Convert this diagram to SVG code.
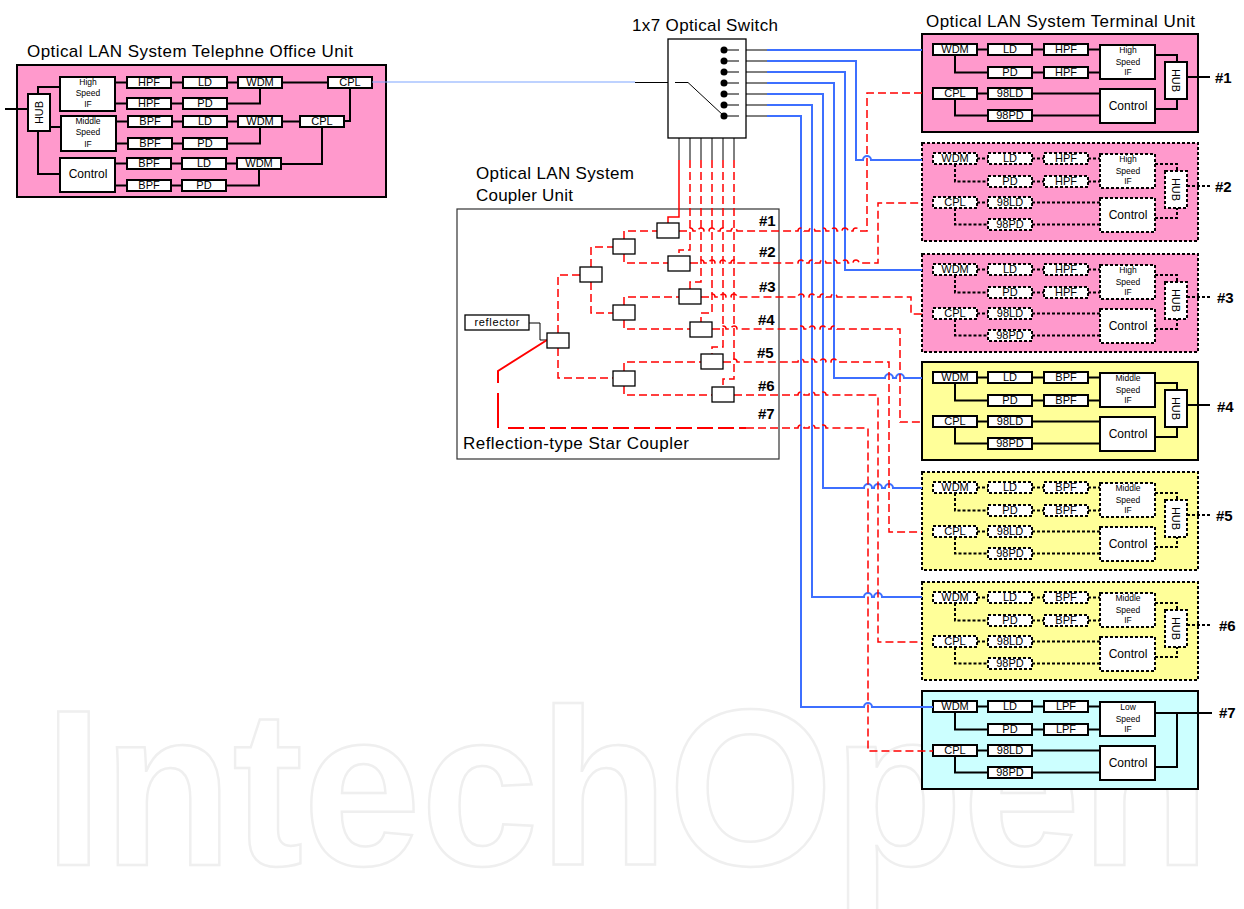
<svg xmlns="http://www.w3.org/2000/svg" width="1244" height="909" viewBox="0 0 1244 909">
<style>
text{font-family:"Liberation Sans",Arial,sans-serif;fill:#000;stroke:none}
.wm{font-size:223px;font-weight:bold;fill:#fff;stroke:#efefef;stroke-width:2.5}
.h{font-size:17px}
.t{font-size:11px;text-anchor:middle}
.s{font-size:8.5px;text-anchor:middle}
.c{font-size:12px;text-anchor:middle}
.n{font-size:15px;font-weight:bold}
.b{fill:#fff;stroke:#000;stroke-width:2}
.w{fill:none;stroke:#000;stroke-width:2}
.fr{stroke:#000;stroke-width:2}
.pink{fill:#ff99cc}.yel{fill:#ffff99}.cy{fill:#ccffff}
.dot .b,.dot .w,.dot .fr{stroke-dasharray:3 2}
.blue{fill:none;stroke:#3d6fff;stroke-width:2}
.red{fill:none;stroke:#f00;stroke-width:1.5;stroke-dasharray:8 4}
.thin{fill:none;stroke:#000;stroke-width:1}
.k{fill:#fff;stroke:#000;stroke-width:1.3}
</style>
<text class="wm" x="44" y="865" textLength="1166" lengthAdjust="spacingAndGlyphs">IntechOpen</text>

<g id="office-unit">
<text class="h" x="27" y="57" textLength="326">Optical LAN System Telephne Office Unit</text>
<rect class="pink fr" x="17" y="65" width="369" height="132"/>
<path class="w" d="M5 109H28M38 94V87H60M50 127H61M38 131V174H60M115 82.500H127M171 82.500H183M227 82.500H238M282 82.500H328M115 103.500H127M171 103.500H183M227 103.500H260V88M350 88V121H344M116 121.500H128M172 121.500H183M227 121.500H238M282 121.500H300M116 143.500H128M172 143.500H183M227 143.500H260V127M322 127V164H281M115 163.500H127M171 163.500H182M226 163.500H237M115 185.500H127M171 185.500H182M226 185.500H259V169"/>
<rect class="b" x="28" y="94" width="22" height="37"/><text class="t" transform="translate(43,112.500) rotate(-90)">HUB</text>
<rect class="b" x="60" y="77" width="55" height="34"/><text class="s" x="88" y="85">High</text><text class="s" x="88" y="96">Speed</text><text class="s" x="88" y="107">IF</text>
<rect class="b" x="61" y="116" width="55" height="35"/><text class="s" x="88" y="124">Middle</text><text class="s" x="88" y="135">Speed</text><text class="s" x="88" y="147">IF</text>
<rect class="b" x="60" y="158" width="55" height="34"/><text class="c" x="88" y="178">Control</text>
<rect class="b" x="127" y="77" width="44" height="11"/><text class="t" x="149" y="86">HPF</text>
<rect class="b" x="183" y="77" width="44" height="11"/><text class="t" x="205" y="86">LD</text>
<rect class="b" x="238" y="77" width="44" height="11"/><text class="t" x="260" y="86">WDM</text>
<rect class="b" x="328" y="77" width="44" height="11"/><text class="t" x="350" y="86">CPL</text>
<rect class="b" x="127" y="98" width="44" height="11"/><text class="t" x="149" y="107">HPF</text>
<rect class="b" x="183" y="98" width="44" height="11"/><text class="t" x="205" y="107">PD</text>
<rect class="b" x="128" y="116" width="44" height="11"/><text class="t" x="150" y="125">BPF</text>
<rect class="b" x="183" y="116" width="44" height="11"/><text class="t" x="205" y="125">LD</text>
<rect class="b" x="238" y="116" width="44" height="11"/><text class="t" x="260" y="125">WDM</text>
<rect class="b" x="300" y="116" width="44" height="11"/><text class="t" x="322" y="125">CPL</text>
<rect class="b" x="128" y="138" width="44" height="11"/><text class="t" x="150" y="147">BPF</text>
<rect class="b" x="183" y="138" width="44" height="11"/><text class="t" x="205" y="147">PD</text>
<rect class="b" x="127" y="158" width="44" height="11"/><text class="t" x="149" y="167">BPF</text>
<rect class="b" x="182" y="158" width="44" height="11"/><text class="t" x="204" y="167">LD</text>
<rect class="b" x="237" y="158" width="44" height="11"/><text class="t" x="259" y="167">WDM</text>
<rect class="b" x="127" y="180" width="44" height="11"/><text class="t" x="149" y="189">BPF</text>
<rect class="b" x="182" y="180" width="44" height="11"/><text class="t" x="204" y="189">PD</text>
</g>

<g id="optical-switch">
<text class="h" x="632" y="31" textLength="146">1x7 Optical Switch</text>
<rect x="668" y="39" width="78" height="99" fill="#fff" stroke="#000" stroke-width="1.3"/>
<g fill="#000"><circle cx="724" cy="50" r="3.500"/><circle cx="724" cy="61" r="3.500"/><circle cx="724" cy="72" r="3.500"/><circle cx="724" cy="83" r="3.500"/><circle cx="724" cy="94" r="3.500"/><circle cx="724" cy="105" r="3.500"/><circle cx="724" cy="116" r="3.500"/></g>
<path class="thin" d="M724 50H739M724 61H739M724 72H739M724 83H739M724 94H739M724 105H739M724 116H739M675 82.500H688L724 116"/>
</g>

<g id="coupler-unit">
<text class="h" x="476" y="179" textLength="158">Optical LAN System</text>
<text class="h" x="476" y="201" textLength="97">Coupler Unit</text>
<rect x="457" y="209" width="322" height="250" fill="#fff" stroke="#333" stroke-width="1.200"/>
<text class="h" x="463" y="449" textLength="226">Reflection-type Star Coupler</text>
<g id="coupler-ports">
<text class="n" x="759" y="226">#1</text><text class="n" x="759" y="257">#2</text><text class="n" x="759" y="292">#3</text><text class="n" x="758" y="325">#4</text><text class="n" x="757" y="358">#5</text><text class="n" x="758" y="391">#6</text><text class="n" x="758" y="419">#7</text>
</g>
</g>

<g id="terminal-title"><text class="h" x="926" y="27" textLength="269">Optical LAN System Terminal Unit</text></g>

<g id="terminal-1" transform="translate(922,34)">
<rect class="pink fr" width="276" height="98"/>
<path class="w" d="M55 15.500H66M110 15.500H122M166 15.500H178M33 21V38.500H66M110 38.500H122M166 38.500H178M233 21H255V28M265 43H288M55 59.500H66M110 59.500H178M33 65V81.500H66M110 81.500H178M233 75H255V65"/>
<rect class="b" x="11" y="10" width="44" height="11"/><text class="t" x="33" y="19">WDM</text>
<rect class="b" x="66" y="10" width="44" height="11"/><text class="t" x="88" y="19">LD</text>
<rect class="b" x="122" y="10" width="44" height="11"/><text class="t" x="144" y="19">HPF</text>
<rect class="b" x="66" y="33" width="44" height="11"/><text class="t" x="88" y="42">PD</text>
<rect class="b" x="122" y="33" width="44" height="11"/><text class="t" x="144" y="42">HPF</text>
<rect class="b" x="178" y="11" width="55" height="34"/><text class="s" x="206" y="19">High</text><text class="s" x="206" y="31">Speed</text><text class="s" x="206" y="41">IF</text>
<rect class="b" x="243" y="28" width="22" height="37"/><text class="t" transform="translate(250,46.500) rotate(90)">HUB</text>
<rect class="b" x="11" y="54" width="44" height="11"/><text class="t" x="33" y="63">CPL</text>
<rect class="b" x="66" y="54" width="44" height="11"/><text class="t" x="88" y="63">98LD</text>
<rect class="b" x="66" y="76" width="44" height="11"/><text class="t" x="88" y="85">98PD</text>
<rect class="b" x="178" y="55" width="55" height="34"/><text class="c" x="206" y="76">Control</text>
<text class="n" x="293" y="49">#1</text>
</g>

<g id="terminal-2" class="dot" transform="translate(922,143)">
<rect class="pink fr" width="276" height="98"/>
<path class="w" d="M55 15.500H66M110 15.500H122M166 15.500H178M33 21V38.500H66M110 38.500H122M166 38.500H178M233 21H255V28M265 43H288M55 59.500H66M110 59.500H178M33 65V81.500H66M110 81.500H178M233 75H255V65"/>
<rect class="b" x="11" y="10" width="44" height="11"/><text class="t" x="33" y="19">WDM</text>
<rect class="b" x="66" y="10" width="44" height="11"/><text class="t" x="88" y="19">LD</text>
<rect class="b" x="122" y="10" width="44" height="11"/><text class="t" x="144" y="19">HPF</text>
<rect class="b" x="66" y="33" width="44" height="11"/><text class="t" x="88" y="42">PD</text>
<rect class="b" x="122" y="33" width="44" height="11"/><text class="t" x="144" y="42">HPF</text>
<rect class="b" x="178" y="11" width="55" height="34"/><text class="s" x="206" y="19">High</text><text class="s" x="206" y="31">Speed</text><text class="s" x="206" y="41">IF</text>
<rect class="b" x="243" y="28" width="22" height="37"/><text class="t" transform="translate(250,46.500) rotate(90)">HUB</text>
<rect class="b" x="11" y="54" width="44" height="11"/><text class="t" x="33" y="63">CPL</text>
<rect class="b" x="66" y="54" width="44" height="11"/><text class="t" x="88" y="63">98LD</text>
<rect class="b" x="66" y="76" width="44" height="11"/><text class="t" x="88" y="85">98PD</text>
<rect class="b" x="178" y="55" width="55" height="34"/><text class="c" x="206" y="76">Control</text>
<text class="n" x="293" y="49">#2</text>
</g>

<g id="terminal-3" class="dot" transform="translate(922,254)">
<rect class="pink fr" width="276" height="98"/>
<path class="w" d="M55 15.500H66M110 15.500H122M166 15.500H178M33 21V38.500H66M110 38.500H122M166 38.500H178M233 21H255V28M265 43H288M55 59.500H66M110 59.500H178M33 65V81.500H66M110 81.500H178M233 75H255V65"/>
<rect class="b" x="11" y="10" width="44" height="11"/><text class="t" x="33" y="19">WDM</text>
<rect class="b" x="66" y="10" width="44" height="11"/><text class="t" x="88" y="19">LD</text>
<rect class="b" x="122" y="10" width="44" height="11"/><text class="t" x="144" y="19">HPF</text>
<rect class="b" x="66" y="33" width="44" height="11"/><text class="t" x="88" y="42">PD</text>
<rect class="b" x="122" y="33" width="44" height="11"/><text class="t" x="144" y="42">HPF</text>
<rect class="b" x="178" y="11" width="55" height="34"/><text class="s" x="206" y="19">High</text><text class="s" x="206" y="31">Speed</text><text class="s" x="206" y="41">IF</text>
<rect class="b" x="243" y="28" width="22" height="37"/><text class="t" transform="translate(250,46.500) rotate(90)">HUB</text>
<rect class="b" x="11" y="54" width="44" height="11"/><text class="t" x="33" y="63">CPL</text>
<rect class="b" x="66" y="54" width="44" height="11"/><text class="t" x="88" y="63">98LD</text>
<rect class="b" x="66" y="76" width="44" height="11"/><text class="t" x="88" y="85">98PD</text>
<rect class="b" x="178" y="55" width="55" height="34"/><text class="c" x="206" y="76">Control</text>
<text class="n" x="295" y="49">#3</text>
</g>

<g id="terminal-4" transform="translate(922,362)">
<rect class="yel fr" width="276" height="98"/>
<path class="w" d="M55 15.500H66M110 15.500H122M166 15.500H178M33 21V38.500H66M110 38.500H122M166 38.500H178M233 21H255V28M265 43H288M55 59.500H66M110 59.500H178M33 65V81.500H66M110 81.500H178M233 75H255V65"/>
<rect class="b" x="11" y="10" width="44" height="11"/><text class="t" x="33" y="19">WDM</text>
<rect class="b" x="66" y="10" width="44" height="11"/><text class="t" x="88" y="19">LD</text>
<rect class="b" x="122" y="10" width="44" height="11"/><text class="t" x="144" y="19">BPF</text>
<rect class="b" x="66" y="33" width="44" height="11"/><text class="t" x="88" y="42">PD</text>
<rect class="b" x="122" y="33" width="44" height="11"/><text class="t" x="144" y="42">BPF</text>
<rect class="b" x="178" y="11" width="55" height="34"/><text class="s" x="206" y="19">Middle</text><text class="s" x="206" y="31">Speed</text><text class="s" x="206" y="41">IF</text>
<rect class="b" x="243" y="28" width="22" height="37"/><text class="t" transform="translate(250,46.500) rotate(90)">HUB</text>
<rect class="b" x="11" y="54" width="44" height="11"/><text class="t" x="33" y="63">CPL</text>
<rect class="b" x="66" y="54" width="44" height="11"/><text class="t" x="88" y="63">98LD</text>
<rect class="b" x="66" y="76" width="44" height="11"/><text class="t" x="88" y="85">98PD</text>
<rect class="b" x="178" y="55" width="55" height="34"/><text class="c" x="206" y="76">Control</text>
<text class="n" x="295" y="50">#4</text>
</g>

<g id="terminal-5" class="dot" transform="translate(922,472)">
<rect class="yel fr" width="276" height="98"/>
<path class="w" d="M55 15.500H66M110 15.500H122M166 15.500H178M33 21V38.500H66M110 38.500H122M166 38.500H178M233 21H255V28M265 43H288M55 59.500H66M110 59.500H178M33 65V81.500H66M110 81.500H178M233 75H255V65"/>
<rect class="b" x="11" y="10" width="44" height="11"/><text class="t" x="33" y="19">WDM</text>
<rect class="b" x="66" y="10" width="44" height="11"/><text class="t" x="88" y="19">LD</text>
<rect class="b" x="122" y="10" width="44" height="11"/><text class="t" x="144" y="19">BPF</text>
<rect class="b" x="66" y="33" width="44" height="11"/><text class="t" x="88" y="42">PD</text>
<rect class="b" x="122" y="33" width="44" height="11"/><text class="t" x="144" y="42">BPF</text>
<rect class="b" x="178" y="11" width="55" height="34"/><text class="s" x="206" y="19">Middle</text><text class="s" x="206" y="31">Speed</text><text class="s" x="206" y="41">IF</text>
<rect class="b" x="243" y="28" width="22" height="37"/><text class="t" transform="translate(250,46.500) rotate(90)">HUB</text>
<rect class="b" x="11" y="54" width="44" height="11"/><text class="t" x="33" y="63">CPL</text>
<rect class="b" x="66" y="54" width="44" height="11"/><text class="t" x="88" y="63">98LD</text>
<rect class="b" x="66" y="76" width="44" height="11"/><text class="t" x="88" y="85">98PD</text>
<rect class="b" x="178" y="55" width="55" height="34"/><text class="c" x="206" y="76">Control</text>
<text class="n" x="294" y="49">#5</text>
</g>

<g id="terminal-6" class="dot" transform="translate(922,582)">
<rect class="yel fr" width="276" height="98"/>
<path class="w" d="M55 15.500H66M110 15.500H122M166 15.500H178M33 21V38.500H66M110 38.500H122M166 38.500H178M233 21H255V28M265 43H288M55 59.500H66M110 59.500H178M33 65V81.500H66M110 81.500H178M233 75H255V65"/>
<rect class="b" x="11" y="10" width="44" height="11"/><text class="t" x="33" y="19">WDM</text>
<rect class="b" x="66" y="10" width="44" height="11"/><text class="t" x="88" y="19">LD</text>
<rect class="b" x="122" y="10" width="44" height="11"/><text class="t" x="144" y="19">BPF</text>
<rect class="b" x="66" y="33" width="44" height="11"/><text class="t" x="88" y="42">PD</text>
<rect class="b" x="122" y="33" width="44" height="11"/><text class="t" x="144" y="42">BPF</text>
<rect class="b" x="178" y="11" width="55" height="34"/><text class="s" x="206" y="19">Middle</text><text class="s" x="206" y="31">Speed</text><text class="s" x="206" y="41">IF</text>
<rect class="b" x="243" y="28" width="22" height="37"/><text class="t" transform="translate(250,46.500) rotate(90)">HUB</text>
<rect class="b" x="11" y="54" width="44" height="11"/><text class="t" x="33" y="63">CPL</text>
<rect class="b" x="66" y="54" width="44" height="11"/><text class="t" x="88" y="63">98LD</text>
<rect class="b" x="66" y="76" width="44" height="11"/><text class="t" x="88" y="85">98PD</text>
<rect class="b" x="178" y="55" width="55" height="34"/><text class="c" x="206" y="76">Control</text>
<text class="n" x="297" y="49">#6</text>
</g>

<g id="terminal-7" transform="translate(922,691)">
<rect class="cy fr" width="276" height="98"/>
<path class="w" d="M55 15.500H66M110 15.500H122M166 15.500H178M33 21V38.500H66M110 38.500H122M166 38.500H178M233 22H290M55 59.500H66M110 59.500H178M33 65V81.500H66M110 81.500H178M233 76H255V22"/>
<rect class="b" x="11" y="10" width="44" height="11"/><text class="t" x="33" y="19">WDM</text>
<rect class="b" x="66" y="10" width="44" height="11"/><text class="t" x="88" y="19">LD</text>
<rect class="b" x="122" y="10" width="44" height="11"/><text class="t" x="144" y="19">LPF</text>
<rect class="b" x="66" y="33" width="44" height="11"/><text class="t" x="88" y="42">PD</text>
<rect class="b" x="122" y="33" width="44" height="11"/><text class="t" x="144" y="42">LPF</text>
<rect class="b" x="178" y="11" width="55" height="34"/><text class="s" x="206" y="19">Low</text><text class="s" x="206" y="31">Speed</text><text class="s" x="206" y="41">IF</text>
<rect class="b" x="11" y="54" width="44" height="11"/><text class="t" x="33" y="63">CPL</text>
<rect class="b" x="66" y="54" width="44" height="11"/><text class="t" x="88" y="63">98LD</text>
<rect class="b" x="66" y="76" width="44" height="11"/><text class="t" x="88" y="85">98PD</text>
<rect class="b" x="178" y="55" width="55" height="34"/><text class="c" x="206" y="76">Control</text>
<text class="n" x="297" y="27">#7</text>
</g>

<g id="connectors">
<path d="M372 82H635" fill="none" stroke="#7fa5ff" stroke-width="1.200"/>
<path class="thin" d="M635 82.500H668M746 50H767M746 61H767M746 72H767M746 83H767M746 94H767M746 105H767M746 116H767M679 138V160M690 138V160M701 138V160M712 138V160M723 138V160M734 138V160M529 323H540V340H547"/>
<path class="blue" d="M767 50H922"/>
<path class="blue" d="M767 61H856V160H863a4 4 0 0 1 8 0H922"/>
<path class="blue" d="M767 72H845V270H922"/>
<path class="blue" d="M767 83H834V378H885a4 4 0 0 1 8 0H896a4 4 0 0 1 8 0H922"/>
<path class="blue" d="M767 94H823V488H864a4 4 0 0 1 8 0H874a4 4 0 0 1 8 0H885a4 4 0 0 1 8 0H922"/>
<path class="blue" d="M767 105H812V597H864a4 4 0 0 1 8 0H874a4 4 0 0 1 8 0H922"/>
<path class="blue" d="M767 116H801V707H864a4 4 0 0 1 8 0H933"/>
<path d="M679 160V217H668V223" fill="none" stroke="#f00" stroke-width="1.500"/>
<path class="red" d="M690 160V250H679V256"/>
<path class="red" d="M701 160V282H690V289"/>
<path class="red" d="M712 160V313H701V322"/>
<path class="red" d="M723 160V347H712V354"/>
<path class="red" d="M734 160V379H723V387"/>
<path class="red" d="M558 333V275H580M558 348V378H613M591 267V247H613M591 282V313H613M624 239V231H657M624 254V263H668M624 305V297H679M624 320V329H690M624 371V362H701M624 386V395H712"/>
<path class="red" d="M679 231H687a3 3 0 0 1 6 0H698a3 3 0 0 1 6 0H709a3 3 0 0 1 6 0H720a3 3 0 0 1 6 0H731a3 3 0 0 1 6 0H798a3 3 0 0 1 6 0H809a3 3 0 0 1 6 0H820a3 3 0 0 1 6 0H831a3 3 0 0 1 6 0H842a3 3 0 0 1 6 0H853a3 3 0 0 1 6 0H867V93H922"/>
<path class="red" d="M690 263H698a3 3 0 0 1 6 0H709a3 3 0 0 1 6 0H720a3 3 0 0 1 6 0H731a3 3 0 0 1 6 0H798a3 3 0 0 1 6 0H809a3 3 0 0 1 6 0H820a3 3 0 0 1 6 0H831a3 3 0 0 1 6 0H842a3 3 0 0 1 6 0H853a3 3 0 0 1 6 0H878V203H922"/>
<path class="red" d="M701 297H709a3 3 0 0 1 6 0H720a3 3 0 0 1 6 0H731a3 3 0 0 1 6 0H798a3 3 0 0 1 6 0H809a3 3 0 0 1 6 0H820a3 3 0 0 1 6 0H831a3 3 0 0 1 6 0H911V314H922"/>
<path class="red" d="M712 329H720a3 3 0 0 1 6 0H731a3 3 0 0 1 6 0H798a3 3 0 0 1 6 0H809a3 3 0 0 1 6 0H820a3 3 0 0 1 6 0H831a3 3 0 0 1 6 0H900V422H922"/>
<path class="red" d="M723 362H731a3 3 0 0 1 6 0H798a3 3 0 0 1 6 0H809a3 3 0 0 1 6 0H820a3 3 0 0 1 6 0H831a3 3 0 0 1 6 0H889V532H922"/>
<path class="red" d="M734 395H798a3 3 0 0 1 6 0H809a3 3 0 0 1 6 0H820a3 3 0 0 1 6 0H878V642H922"/>
<path class="red" d="M746 428H798a3 3 0 0 1 6 0H809a3 3 0 0 1 6 0H820a3 3 0 0 1 6 0H868V751H933"/>
<path d="M547 340L498 371V383M498 393V428" fill="none" stroke="#f00" stroke-width="2"/>
<path d="M508 428H746" fill="none" stroke="#f00" stroke-width="2" stroke-dasharray="16 5"/>
</g>

<g id="coupler-boxes">
<rect class="k" x="465" y="315" width="64" height="15"/><text class="t" x="497" y="326" textLength="45">reflector</text>
<rect class="k" x="657" y="223" width="22" height="15"/>
<rect class="k" x="668" y="256" width="22" height="15"/>
<rect class="k" x="679" y="289" width="22" height="15"/>
<rect class="k" x="690" y="322" width="22" height="15"/>
<rect class="k" x="701" y="354" width="22" height="15"/>
<rect class="k" x="712" y="387" width="22" height="15"/>
<rect class="k" x="613" y="239" width="22" height="15"/>
<rect class="k" x="613" y="305" width="22" height="15"/>
<rect class="k" x="613" y="371" width="22" height="15"/>
<rect class="k" x="580" y="267" width="22" height="15"/>
<rect class="k" x="547" y="333" width="22" height="15"/>
</g>
</svg>
